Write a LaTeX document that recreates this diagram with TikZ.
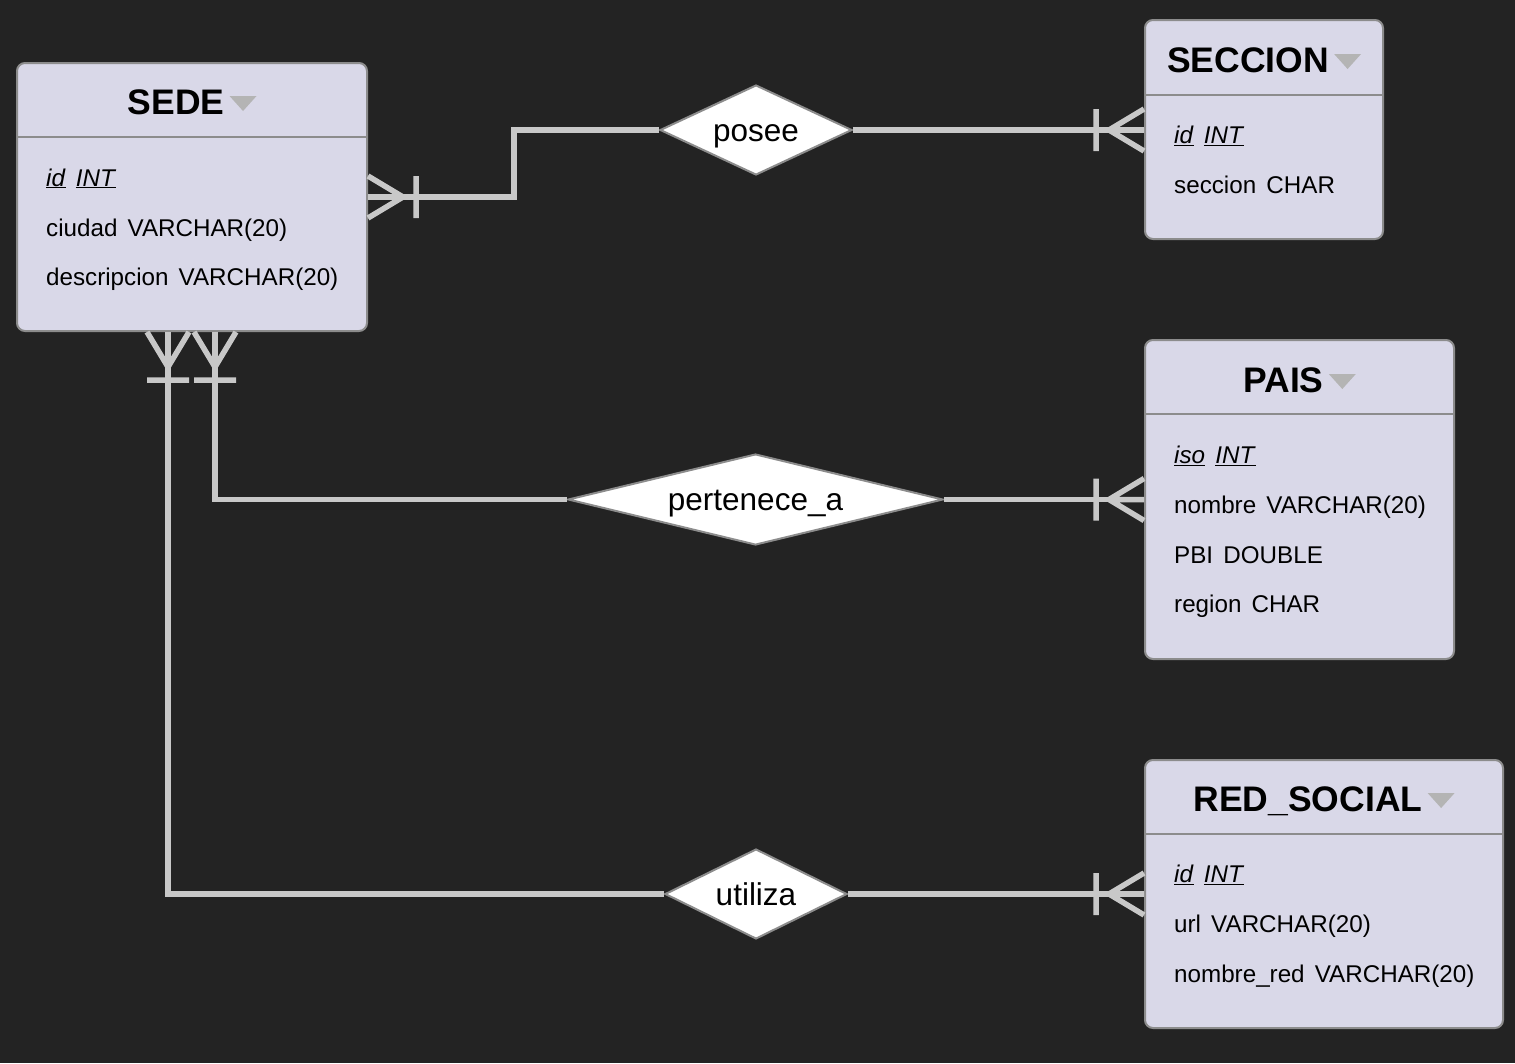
\documentclass[tikz,border=0pt]{standalone}
\usepackage{fontspec}
\setmainfont{Liberation Sans}
\usepackage{tikz}
\usetikzlibrary{calc, positioning, shapes.geometric}

\definecolor{bgdark}{HTML}{232323}
\definecolor{entfill}{HTML}{D9D8E8}
\definecolor{entline}{HTML}{8C8C8C}
\definecolor{relline}{HTML}{C8C8C8}
\definecolor{arrowgray}{HTML}{B4B4B4}

\tikzset{
  entity/.style={draw=entline, fill=entfill, line width=2pt, rounded corners=8pt, inner sep=0pt},
  enttitle/.style={anchor=base, inner sep=0pt, font=\fontsize{35.5}{40}\selectfont\bfseries},
  attr/.style={anchor=base west, inner sep=0pt, font=\fontsize{24.2}{28}\selectfont},
  relation/.style={diamond, draw=entline, fill=white, line width=2pt, inner sep=0pt, text height=28.7pt, text depth=6.6pt, font=\fontsize{31.5}{36}\selectfont},
  conn/.style={draw=relline, line width=5.5pt},
  divider/.style={draw=entline, line width=2pt},
  crowfoot/.pic={\draw[conn] (0,-21) -- (-35,0) -- (0,21) (0,0) -- (-35,0) (-48,-21) -- (-48,21);}
}
\newcommand{\pk}[1]{\underline{\textit{#1}}}
\newcommand{\gap}{\hspace{0.42em}}
\newcommand{\dropmark}[1]{\fill[arrowgray] ([xshift=5pt,yshift=18.7pt]#1.base east) -- ([xshift=32pt,yshift=18.7pt]#1.base east) -- ([xshift=18.5pt,yshift=3.7pt]#1.base east) -- cycle;}

\begin{document}
\begin{tikzpicture}[x=1pt, y=-1pt]
    \path[use as bounding box, fill=bgdark] (0,0) rectangle (1515,1063);

    % entities
    \node[entity, minimum width=350pt, minimum height=268pt] (sede) at (192,197) {};
    \node[entity, minimum width=238pt, minimum height=219pt] (seccion) at (1264,129.5) {};
    \node[entity, minimum width=309pt, minimum height=319pt] (pais) at (1299.5,499.5) {};
    \node[entity, minimum width=358pt, minimum height=268pt] (redsocial) at (1324,894) {};

    \draw[divider] ([yshift=-75pt]sede.north west) -- ([yshift=-75pt]sede.north east);
    \draw[divider] ([yshift=-76pt]seccion.north west) -- ([yshift=-76pt]seccion.north east);
    \draw[divider] ([yshift=-75pt]pais.north west) -- ([yshift=-75pt]pais.north east);
    \draw[divider] ([yshift=-75pt]redsocial.north west) -- ([yshift=-75pt]redsocial.north east);

    \node[enttitle] (sedeT) at ([xshift=-16pt,yshift=-52.7pt]sede.north) {SEDE};
    \node[enttitle] (seccionT) at ([xshift=-16pt,yshift=-53.7pt]seccion.north) {SECCION};
    \node[enttitle] (paisT) at ([xshift=-16pt,yshift=-53.7pt]pais.north) {PAIS};
    \node[enttitle] (redsocialT) at ([xshift=-16pt,yshift=-52.7pt]redsocial.north) {RED\_SOCIAL};
    \dropmark{sedeT}
    \dropmark{seccionT}
    \dropmark{paisT}
    \dropmark{redsocialT}

    \node[attr] (sedeA1) at ([xshift=30pt,yshift=-124pt]sede.north west) {\pk{id}\gap\pk{INT}};
    \node[attr] (sedeA2) at ([xshift=30pt,yshift=-174pt]sede.north west) {ciudad\gap VARCHAR(20)};
    \node[attr] (sedeA3) at ([xshift=30pt,yshift=-223pt]sede.north west) {descripcion\gap VARCHAR(20)};

    \node[attr] (seccionA1) at ([xshift=30pt,yshift=-124.5pt]seccion.north west) {\pk{id}\gap\pk{INT}};
    \node[attr] (seccionA2) at ([xshift=30pt,yshift=-174.5pt]seccion.north west) {seccion\gap CHAR};

    \node[attr] (paisA1) at ([xshift=30pt,yshift=-124.5pt]pais.north west) {\pk{iso}\gap\pk{INT}};
    \node[attr] (paisA2) at ([xshift=30pt,yshift=-174.5pt]pais.north west) {nombre\gap VARCHAR(20)};
    \node[attr] (paisA3) at ([xshift=30pt,yshift=-224.5pt]pais.north west) {PBI\gap DOUBLE};
    \node[attr] (paisA4) at ([xshift=30pt,yshift=-273.5pt]pais.north west) {region\gap CHAR};

    \node[attr] (redsocialA1) at ([xshift=30pt,yshift=-123.5pt]redsocial.north west) {\pk{id}\gap\pk{INT}};
    \node[attr] (redsocialA2) at ([xshift=30pt,yshift=-173.5pt]redsocial.north west) {url\gap VARCHAR(20)};
    \node[attr] (redsocialA3) at ([xshift=30pt,yshift=-223.5pt]redsocial.north west) {nombre\_red\gap VARCHAR(20)};

    % relations
    \node[relation, aspect=2, minimum width=192pt, minimum height=90pt] (posee) at (756,130) {posee};
    \node[relation, aspect=4.1, minimum width=375pt, minimum height=91pt] (pertenece) at (755.5,499.5) {pertenece\_a};
    \node[relation, aspect=2, minimum width=182pt, minimum height=90pt] (utiliza) at (756,894) {utiliza};

    \coordinate (sedeB1) at ([xshift=-24pt]sede.south);
    \coordinate (sedeB2) at ([xshift=23pt]sede.south);

    % connectors
    \draw[conn] (sede.east) -- ++(146,0) |- (posee.west);
    \draw[conn] (posee.east) -- (posee.east -| seccion.west);
    \draw[conn] (pertenece.west) -| (sedeB2);
    \draw[conn] (pertenece.east) -- (pertenece.east -| pais.west);
    \draw[conn] (utiliza.west) -| (sedeB1);
    \draw[conn] (utiliza.east) -- (utiliza.east -| redsocial.west);

    \pic[rotate=180] at (sede.east) {crowfoot};
    \pic[rotate=90] at (sedeB1) {crowfoot};
    \pic[rotate=90] at (sedeB2) {crowfoot};
    \pic at (posee.east -| seccion.west) {crowfoot};
    \pic at (pertenece.east -| pais.west) {crowfoot};
    \pic at (utiliza.east -| redsocial.west) {crowfoot};
  \end{tikzpicture}
\end{document}
